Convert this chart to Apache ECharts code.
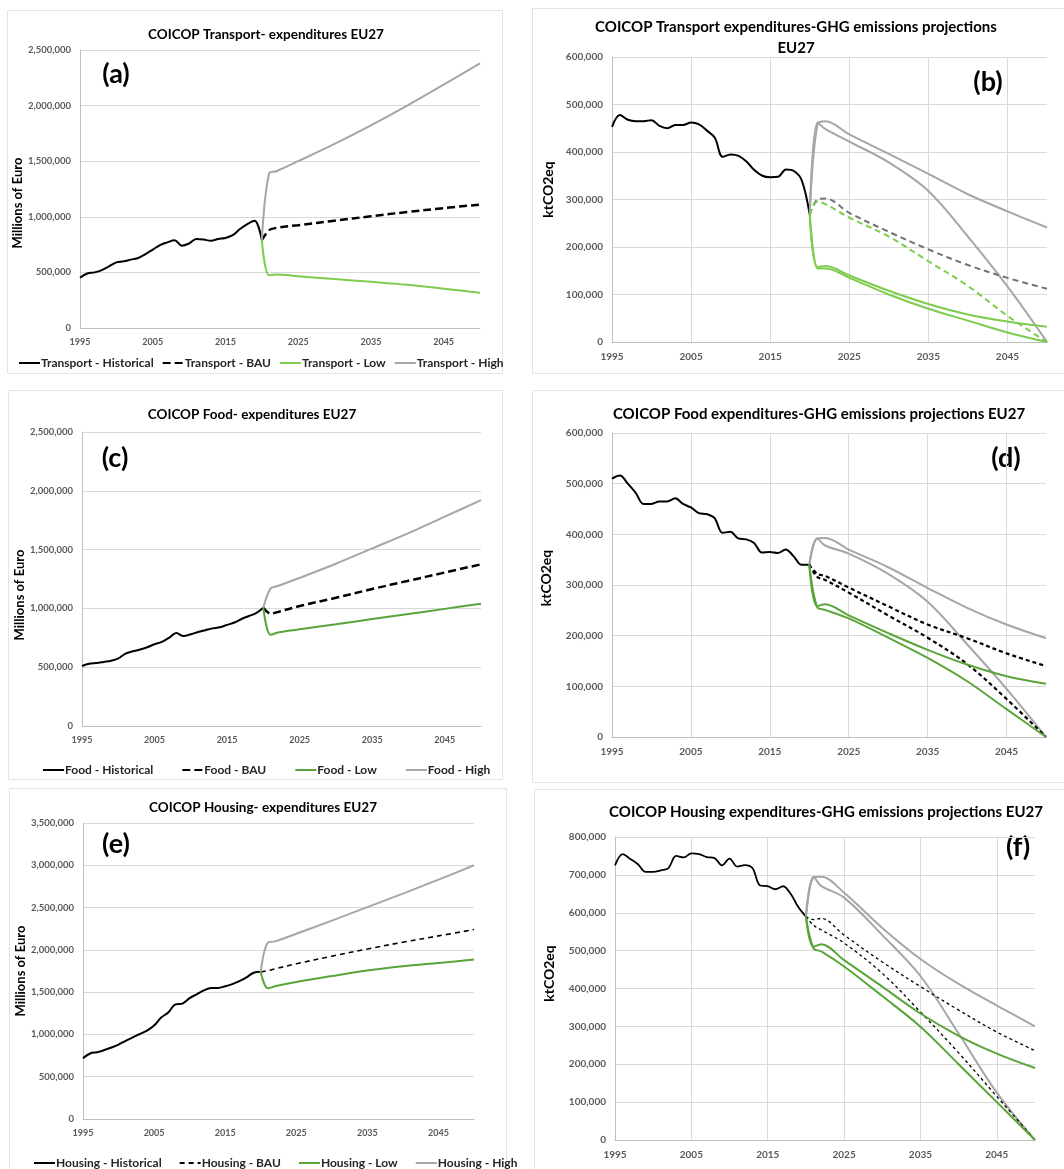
<!DOCTYPE html>
<html><head><meta charset="utf-8">
<script src="https://cdn.jsdelivr.net/npm/echarts@6/dist/echarts.min.js"></script>
<style>html,body{margin:0;padding:0;background:#fff}#c{width:1064px;height:1169px}</style>
</head><body><div id="c"></div>
<script>
// ---------- DATA ----------
const histYears = [1995,1996,1997,1998,1999,2000,2001,2002,2003,2004,2005,2006,2007,2008,2009,2010,2011,2012,2013,2014,2015,2016,2017,2018,2019,2020];
const projYears = [2020,2021,2022,2025,2030,2035,2040,2045,2050];
const xTickLabels = ['1995','2005','2015','2025','2035','2045'];

// (a) Transport expenditures (Millions of Euro)
const aHist = [452000,490000,500000,520000,555000,590000,600000,615000,630000,665000,705000,745000,770000,790000,740000,760000,800000,795000,785000,800000,810000,835000,890000,935000,965000,790000];
const aBAU  = [790000,880000,900000,925000,965000,1005000,1043000,1078000,1110000];
const aLow  = [790000,475000,480000,465000,440000,415000,388000,354000,318000];
const aHigh = [790000,1390000,1410000,1500000,1655000,1822000,2000000,2188000,2380000];

// (b) Transport GHG emissions (ktCO2eq)
const bHist = [453000,478000,468000,465000,465000,467000,455000,450000,457000,457000,462000,458000,445000,430000,390000,395000,392000,380000,362000,350000,347000,348000,363000,360000,340000,268000];
const bHighA = [268000,460000,465000,437000,396000,354000,311000,275000,241000];
const bHighB = [268000,462000,448000,422000,378000,318000,222000,117000,0];
const bBauA  = [268000,300000,302000,272000,232000,195000,162000,135000,112000];
const bBauB  = [268000,296000,290000,262000,222000,170000,118000,55000,0];
const bLowA  = [268000,158000,160000,140000,108000,80000,58000,43000,32000];
const bLowB  = [268000,155000,155000,135000,100000,70000,45000,20000,0];

// (c) Food expenditures
const cHist = [510000,530000,535000,545000,555000,575000,615000,635000,650000,670000,695000,715000,750000,790000,765000,780000,800000,815000,830000,840000,860000,880000,910000,935000,960000,1005000];
const cBAU  = [1005000,955000,970000,1020000,1090000,1165000,1235000,1305000,1375000];
const cLow  = [1005000,775000,795000,822000,865000,909000,953000,996000,1040000];
const cHigh = [1005000,1170000,1190000,1260000,1380000,1510000,1640000,1780000,1920000];

// (d) Food GHG emissions
const dHist = [510000,516000,500000,482000,460000,460000,465000,465000,471000,460000,453000,442000,440000,432000,403000,405000,392000,390000,383000,364000,365000,363000,370000,357000,340000,340000];
const dHighA = [340000,392000,393000,370000,335000,294000,255000,222000,195000];
const dHighB = [340000,392000,378000,362000,322000,267000,183000,95000,0];
const dBauA  = [340000,322000,318000,295000,258000,222000,195000,165000,140000];
const dBauB  = [340000,316000,310000,285000,240000,196000,144000,75000,0];
const dLowA  = [340000,258000,262000,240000,205000,172000,143000,120000,105000];
const dLowB  = [340000,256000,251000,234000,196000,156000,110000,55000,0];

// (e) Housing expenditures
const eHist = [720000,775000,790000,815000,845000,880000,925000,965000,1005000,1045000,1105000,1200000,1260000,1355000,1365000,1430000,1475000,1520000,1550000,1550000,1570000,1595000,1630000,1675000,1730000,1740000];
const eBAU  = [1740000,1755000,1775000,1835000,1925000,2010000,2090000,2165000,2240000];
const eLow  = [1740000,1545000,1570000,1620000,1690000,1755000,1805000,1845000,1885000];
const eHigh = [1740000,2085000,2100000,2190000,2345000,2505000,2665000,2830000,3000000];

// (f) Housing GHG emissions
const fHist = [725000,755000,742000,728000,708000,708000,712000,718000,750000,746000,757000,755000,747000,745000,725000,743000,722000,726000,718000,672000,670000,662000,670000,650000,615000,590000];
const fHighA = [590000,693000,695000,653000,560000,478000,412000,355000,300000];
const fHighB = [590000,695000,671000,640000,541000,433000,281000,125000,0];
const fBauA  = [590000,582000,585000,541000,470000,405000,343000,285000,236000];
const fBauB  = [590000,567000,555000,520000,440000,338000,230000,115000,0];
const fLowA  = [590000,510000,517000,475000,405000,334000,275000,228000,190000];
const fLowB  = [590000,506000,498000,458000,380000,299000,200000,100000,0];

// ---------- CHART ----------
const FONT = 'Lato, "Liberation Sans", sans-serif';
const BLACK = '#000000', LIME = '#7dcc4d', GREEN = '#5aa53a', GRAY = '#a6a6a6', DGRAY = '#737373';
const axisYears = [];
for (let y = 1995; y <= 2050; y++) axisYears.push(String(y));
const tickIdx = xTickLabels.map(t => axisYears.indexOf(t));

const panels = [
  {grid:{left:80,top:50,width:400,height:278}, max:2500000, interval:500000, vgrid:false, yname:'Millions of Euro', nameGap:53, fs:9.5, xfs:9, nfs:13, npad:[0,28,0,0]},
  {grid:{left:612,top:57,width:435,height:285}, max:600000, interval:100000, vgrid:true, yname:'ktCO2eq', nameGap:57, fs:10, xfs:10, nfs:14, npad:[0,0,0,20]},
  {grid:{left:82,top:432,width:399,height:294}, max:2500000, interval:500000, vgrid:false, yname:'Millions of Euro', nameGap:53, fs:9.5, xfs:9, nfs:13, npad:[0,32,0,0]},
  {grid:{left:612,top:433,width:434,height:304}, max:600000, interval:100000, vgrid:true, yname:'ktCO2eq', nameGap:59, fs:10, xfs:10, nfs:14, npad:[0,0,0,14]},
  {grid:{left:83,top:823,width:391,height:296}, max:3500000, interval:500000, vgrid:false, yname:'Millions of Euro', nameGap:51, fs:9.5, xfs:9, nfs:13, npad:[0,0,0,0]},
  {grid:{left:615,top:837,width:420,height:303}, max:800000, interval:100000, vgrid:true, yname:'ktCO2eq', nameGap:59, fs:10, xfs:10, nfs:14, npad:[0,0,0,30]}
];

function commas(v){ return String(v).replace(/\B(?=(\d{3})+(?!\d))/g, ','); }
function pts(xs, vs){ return xs.map((x,k) => [x - 1995, vs[k]]); }
function line(idx, name, xs, vs, color, width, dash, smooth){
  return {type:'line', name, xAxisIndex:idx, yAxisIndex:idx, data:pts(xs, vs),
    smooth: smooth, symbol:'none', showSymbol:false, color,
    itemStyle:{color}, lineStyle:{color, width, type: dash || 'solid'},
    emphasis:{disabled:true}, animation:false};
}

const grids = panels.map(p => p.grid);
const xAxes = panels.map((p,i) => ({
  type:'category', gridIndex:i, data:axisYears, boundaryGap:false,
  axisLine:{show:true, lineStyle:{color:'#bfbfbf', width:1}},
  axisTick:{show:false},
  axisLabel:{interval:(idx)=>tickIdx.indexOf(idx) >= 0, color:'#595959', fontFamily:FONT, fontWeight:'bold', fontSize:p.xfs, margin:10},
  splitLine:{show:p.vgrid, interval:(idx)=>tickIdx.indexOf(idx) >= 0, lineStyle:{color:'#d9d9d9', width:1}}
}));
const yAxes = panels.map((p,i) => ({
  type:'value', gridIndex:i, min:0, max:p.max, interval:p.interval,
  axisLine:{show:true, lineStyle:{color:'#bfbfbf', width:1}},
  axisTick:{show:false},
  axisLabel:{formatter:commas, color:'#595959', fontFamily:FONT, fontWeight:'bold', fontSize:p.fs, margin:9},
  splitLine:{show:true, lineStyle:{color:'#d9d9d9', width:1}},
  name:p.yname, nameLocation:'middle', nameGap:p.nameGap,
  nameTextStyle:{fontFamily:FONT, fontWeight:'bold', fontSize:p.nfs, color:'#000', padding:p.npad}
}));

const S = 0.35, SP = 0.35;
const series = [
  // (a)
  line(0,'Transport - Historical',histYears,aHist,BLACK,2,null,S),
  line(0,'Transport - BAU',projYears,aBAU,BLACK,2.5,[8,4],SP),
  line(0,'Transport - Low',projYears,aLow,LIME,2,null,SP),
  line(0,'Transport - High',projYears,aHigh,GRAY,2,null,SP),
  // (b)
  line(1,'Transport GHG - Historical',histYears,bHist,BLACK,2,null,S),
  line(1,'Transport GHG - High (1)',projYears,bHighA,GRAY,2,null,SP),
  line(1,'Transport GHG - High (2)',projYears,bHighB,GRAY,2,null,SP),
  line(1,'Transport GHG - BAU (1)',projYears,bBauA,DGRAY,2,[6,4],SP),
  line(1,'Transport GHG - BAU (2)',projYears,bBauB,LIME,2,[6,4],SP),
  line(1,'Transport GHG - Low (1)',projYears,bLowA,LIME,2,null,SP),
  line(1,'Transport GHG - Low (2)',projYears,bLowB,LIME,2,null,SP),
  // (c)
  line(2,'Food - Historical',histYears,cHist,BLACK,2,null,S),
  line(2,'Food - BAU',projYears,cBAU,BLACK,2.5,[8,4],SP),
  line(2,'Food - Low',projYears,cLow,GREEN,2,null,SP),
  line(2,'Food - High',projYears,cHigh,GRAY,2,null,SP),
  // (d)
  line(3,'Food GHG - Historical',histYears,dHist,BLACK,2,null,S),
  line(3,'Food GHG - High (1)',projYears,dHighA,GRAY,2,null,SP),
  line(3,'Food GHG - High (2)',projYears,dHighB,GRAY,2,null,SP),
  line(3,'Food GHG - BAU (1)',projYears,dBauA,BLACK,2.2,[4,3],SP),
  line(3,'Food GHG - BAU (2)',projYears,dBauB,BLACK,2.2,[4,3],SP),
  line(3,'Food GHG - Low (1)',projYears,dLowA,GREEN,2,null,SP),
  line(3,'Food GHG - Low (2)',projYears,dLowB,GREEN,2,null,SP),
  // (e)
  line(4,'Housing - Historical',histYears,eHist,BLACK,2,null,S),
  line(4,'Housing - BAU',projYears,eBAU,BLACK,1.6,[5,4],SP),
  line(4,'Housing - Low',projYears,eLow,GREEN,2,null,SP),
  line(4,'Housing - High',projYears,eHigh,GRAY,2,null,SP),
  // (f)
  line(5,'Housing GHG - Historical',histYears,fHist,BLACK,1.8,null,S),
  line(5,'Housing GHG - High (1)',projYears,fHighA,GRAY,2,null,SP),
  line(5,'Housing GHG - High (2)',projYears,fHighB,GRAY,2,null,SP),
  line(5,'Housing GHG - BAU (1)',projYears,fBauA,BLACK,1.3,[3,3],SP),
  line(5,'Housing GHG - BAU (2)',projYears,fBauB,BLACK,1.3,[3,3],SP),
  line(5,'Housing GHG - Low (1)',projYears,fLowA,GREEN,2,null,SP),
  line(5,'Housing GHG - Low (2)',projYears,fLowB,GREEN,2,null,SP)
];

function legend(left, top, gap, names){
  return {left, top, itemGap:gap, itemWidth:21, itemHeight:10, orient:'horizontal',
    selectedMode:false, data:names, itemStyle:{opacity:0},
    textStyle:{fontFamily:FONT, fontWeight:'bold', fontSize:12, color:'#262626', padding:[0,0,0,-4]}};
}
const legends = [
  legend(13, 352, 8, ['Transport - Historical','Transport - BAU','Transport - Low','Transport - High']),
  legend(37, 759, 28, ['Food - Historical','Food - BAU','Food - Low','Food - High']),
  legend(28, 1152, 17, ['Housing - Historical','Housing - BAU','Housing - Low','Housing - High'])
];

function ttl(text, x, y, size, lh){
  return {text, left:x, top:y, textAlign:'center',
    textStyle:{fontFamily:FONT, fontWeight:'bold', fontSize:size, color:'#000', lineHeight:lh || size*1.25}};
}
const titles = [
  ttl('COICOP Transport- expenditures EU27', 261, 21, 13.5),
  ttl('COICOP Transport expenditures-GHG emissions projections\nEU27', 791, 12, 15, 20.5),
  ttl('COICOP Food- expenditures EU27', 247, 401, 13.5),
  ttl('COICOP Food expenditures-GHG emissions projections EU27', 814, 400, 15),
  ttl('COICOP Housing- expenditures EU27', 258, 794, 13.5),
  ttl('COICOP Housing expenditures-GHG emissions projections EU27', 821, 798, 15)
];

function frame(x, y, w, h){
  return {type:'rect', silent:true, z:-10, shape:{x, y, width:w, height:h},
    style:{fill:'none', stroke:'#e3e3e3', lineWidth:1}};
}
function tag(text, x, y){
  return {type:'text', silent:true, x, y, style:{text, fontFamily:FONT, fontWeight:'bold', fontSize:27, fill:'#000', textAlign:'center', textVerticalAlign:'middle'}};
}
const graphics = [
  frame(7.5, 10.5, 495, 363),
  frame(532.5, 8.5, 540, 365),
  frame(8.5, 390.5, 494, 389),
  frame(532.5, 390.5, 540, 392),
  frame(9.5, 788.5, 497, 400),
  frame(534.5, 789.5, 540, 400),
  tag('(a)', 116, 74),
  tag('(b)', 988, 82),
  tag('(c)', 115, 458),
  tag('(d)', 1006, 458),
  tag('(e)', 116, 844),
  tag('(f)', 1018, 847)
];

const chart = echarts.init(document.getElementById('c'), null, {renderer:'canvas'});
chart.setOption({
  animation:false,
  backgroundColor:'#fff',
  title:titles,
  legend:legends,
  grid:grids,
  xAxis:xAxes,
  yAxis:yAxes,
  series,
  graphic:graphics
});
</script></body></html>
